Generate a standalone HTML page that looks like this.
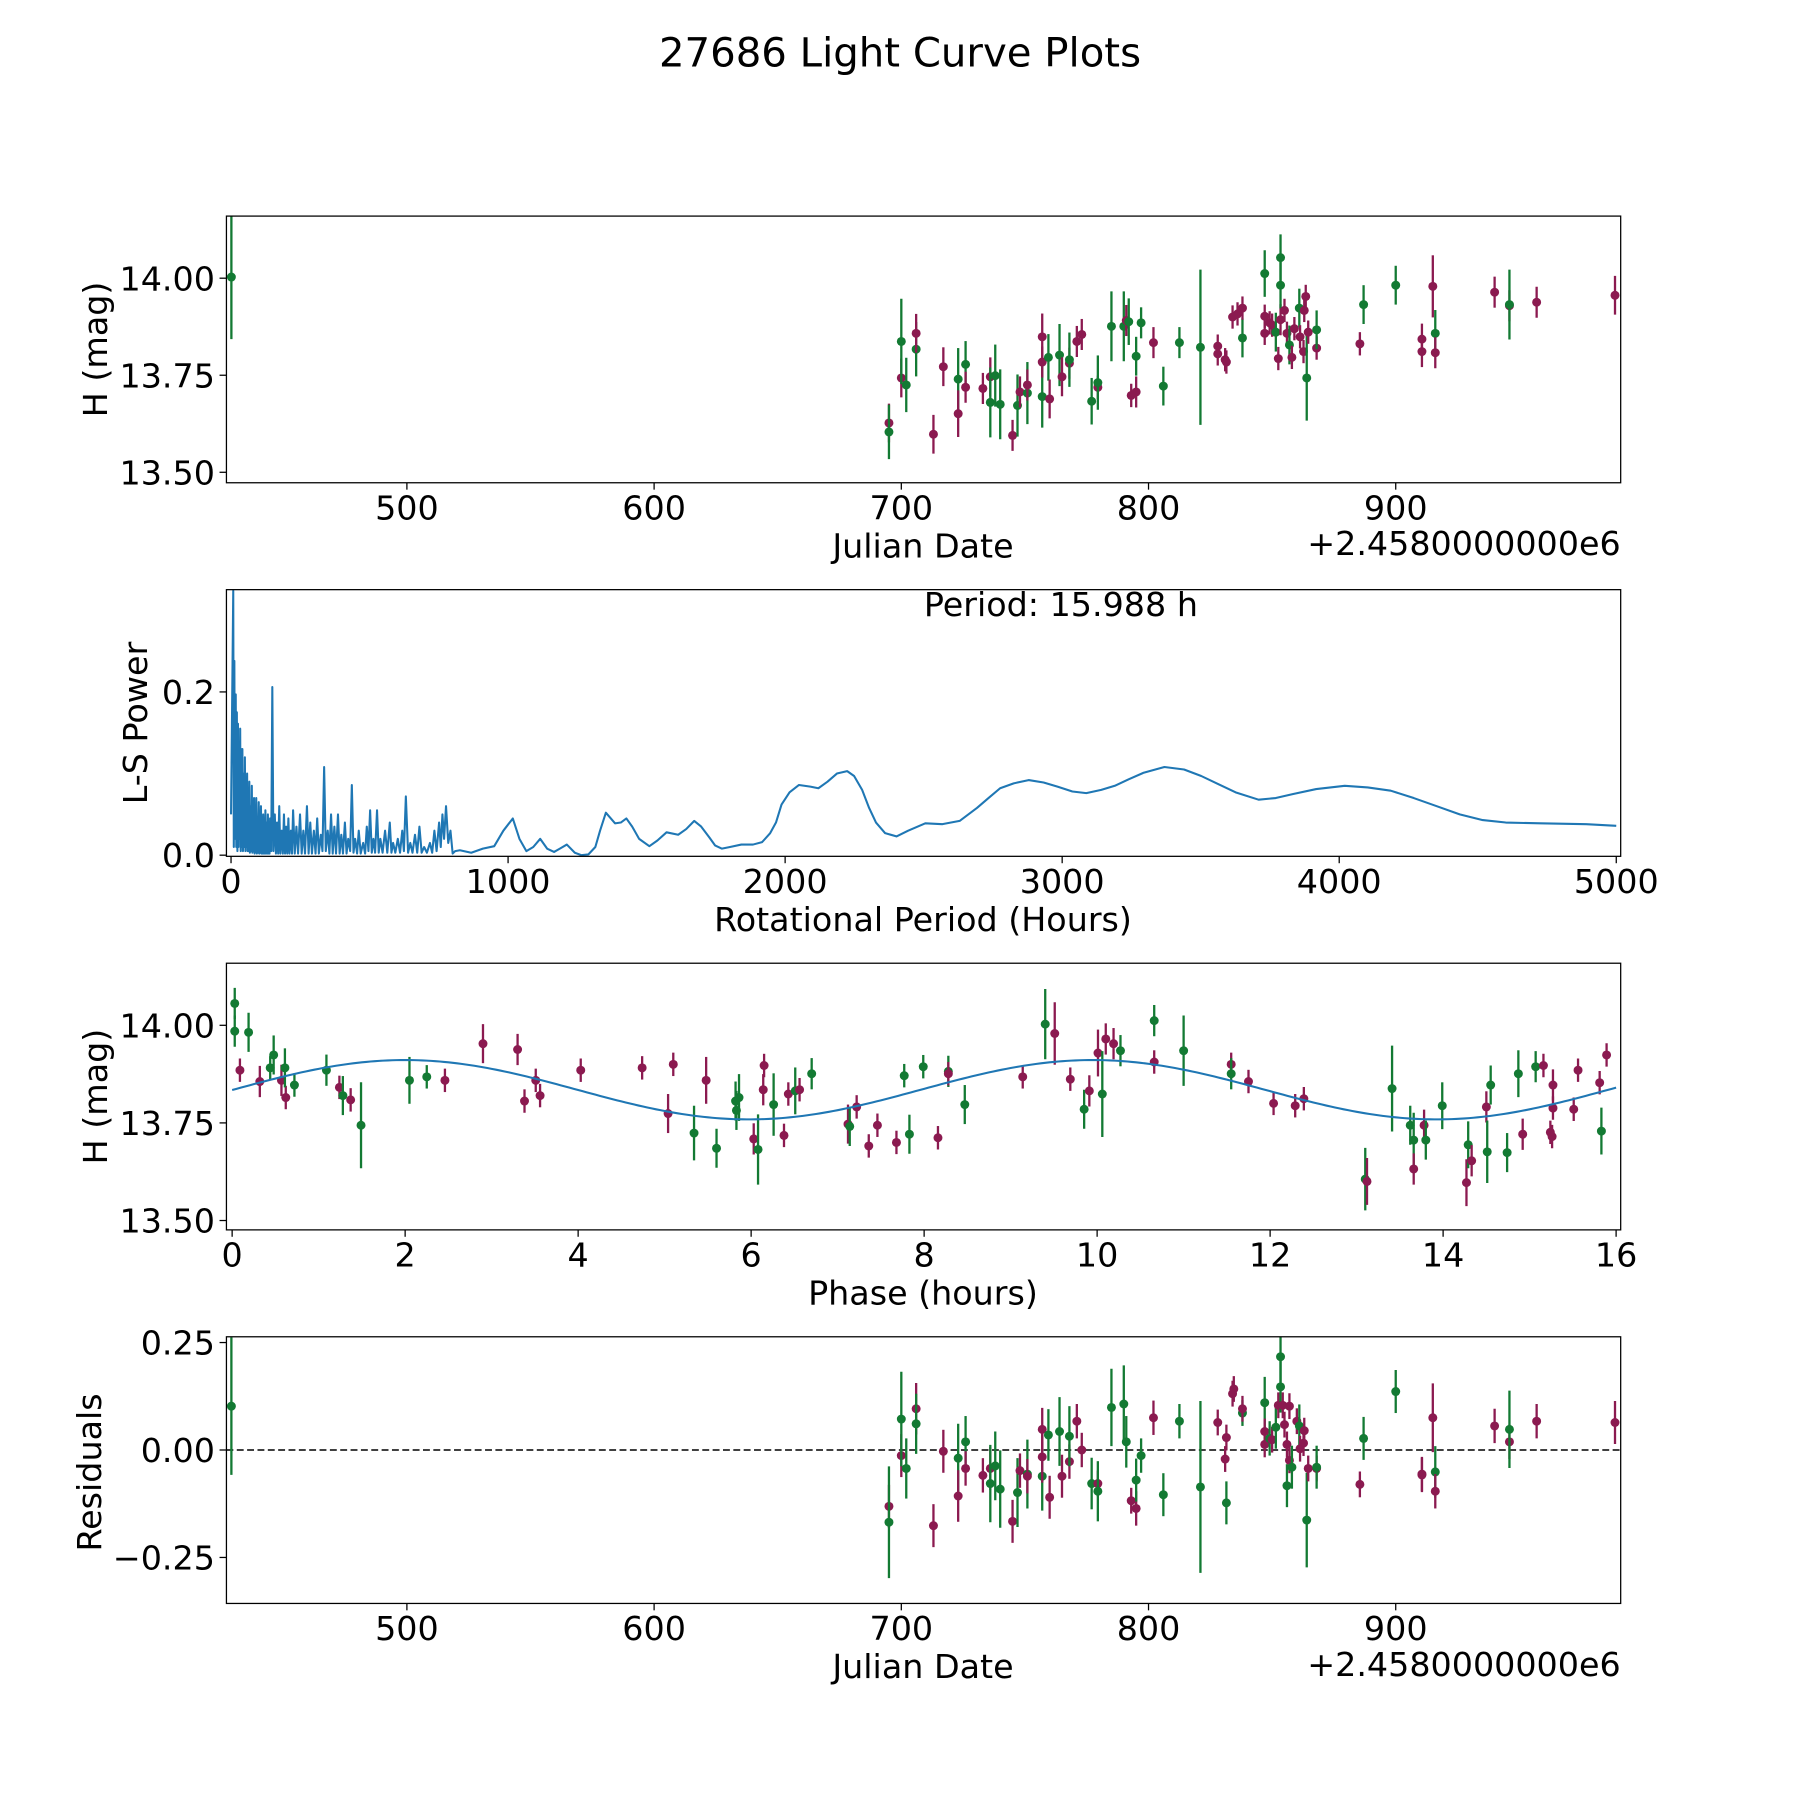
<!DOCTYPE html>
<html><head><meta charset="utf-8"><style>
html,body{margin:0;padding:0;background:#fff}
svg{display:block}
text{font-family:"DejaVu Sans","Liberation Sans",sans-serif;fill:#000}
</style></head><body>
<svg id="fig" width="1800" height="1800" viewBox="0 0 1566 1566" xmlns="http://www.w3.org/2000/svg">
<rect width="1566" height="1566" fill="#fff"/>
<text x="783" y="58" font-size="35" text-anchor="middle">27686 Light Curve Plots</text>
<g id="p1"></g>
<g id="p2"></g>
<g id="p3"></g>
<g id="p4"></g>
</svg>
<script>
// ---------- data: light curve ----------
const obsDate=[429,695,695,700,700,702,706,706,713,717,723,723,726,726,733,736,736,738,740,745,747,748,751,751,757,757,757,759.5,760,764,765,768,768,771,773,777,779.5,779.5,785,790,791,792,793,795,795,797,802,806,812.5,821,828,828,831,831.5,834,836,838,838,847,847,847,849,850,851.5,852.5,853.4,853.4,853.4,855,856,857,858,859,861,861.3,862.7,863,863.6,864,864.6,868,868,885.5,887,900,910.6,910.6,915,916,916,940,946,946,957,988.7];
const obsMag=[14.003,13.627,13.604,13.743,13.837,13.725,13.817,13.858,13.598,13.772,13.74,13.651,13.778,13.719,13.716,13.746,13.68,13.749,13.675,13.595,13.672,13.707,13.704,13.725,13.695,13.784,13.849,13.796,13.689,13.802,13.746,13.781,13.79,13.837,13.855,13.683,13.719,13.731,13.876,13.876,13.891,13.888,13.698,13.707,13.799,13.885,13.834,13.722,13.834,13.822,13.825,13.805,13.79,13.784,13.9,13.908,13.846,13.923,14.012,13.902,13.858,13.885,13.879,13.861,13.793,13.893,13.982,14.053,13.917,13.858,13.828,13.796,13.87,13.923,13.849,13.811,13.917,13.953,13.743,13.861,13.82,13.867,13.831,13.932,13.982,13.843,13.811,13.979,13.858,13.808,13.964,13.929,13.932,13.938,13.956];
const obsErr=[.16,.05,.07,.05,.11,.07,.07,.05,.05,.05,.08,.06,.06,.04,.04,.05,.09,.08,.09,.04,.08,.04,.08,.04,.08,.04,.06,.06,.05,.08,.05,.04,.07,.04,.04,.06,.03,.07,.09,.09,.04,.06,.03,.04,.05,.04,.04,.05,.04,.2,.03,.03,.03,.03,.03,.03,.05,.03,.06,.03,.03,.03,.03,.05,.03,.04,.06,.06,.03,.03,.05,.03,.03,.05,.03,.03,.03,.03,.11,.03,.03,.05,.03,.05,.05,.04,.04,.08,.06,.04,.04,.04,.09,.04,.05];
const obsBand="GMGMGGGMMMGMGMMMGGGMGMGMGMMGMGMMGMMGMGGGMGMMGGMGGGMMMMMMGMGMMMMGMMGGMMGMMGMMMMGMMGMGGMMMGMMMGMM".split("");
// ---------- data: residuals ----------
const resDate=[429,695,695,700,700,702,706,706,713,717,723,723,726,726,733,736,736,738,740,745,747,748,751,751,757,757,757,759.5,760,764,765,768,768,771,773,777,779.5,779.5,785,790,791,793,795,795,797,802,806,812.5,821,828,831,831.5,831.5,834,834.5,838,838,847,847,847,849,850,851.5,852.5,853.4,853.4,854.3,855,856,856,857,857,858,860,861,861.3,862.7,863,864,864.6,868,868,885.5,887,900,910.6,910.6,915,916,916,940,946,946,957,988.7];
const resVal=[.102,-.131,-.168,-.013,.072,-.043,.096,.061,-.176,-.003,-.019,-.107,.019,-.043,-.059,-.043,-.078,-.037,-.091,-.166,-.099,-.048,-.056,-.061,-.061,.048,-.016,.035,-.11,.043,-.061,-.027,.032,.067,0,-.078,-.078,-.096,.099,.107,.019,-.118,-.136,-.07,-.013,.075,-.104,.067,-.086,.064,-.021,-.123,.029,.131,.142,.086,.096,.11,.043,.013,.027,.024,.053,.104,.217,.147,.104,.059,.013,-.083,.102,-.024,-.04,.067,.056,.003,.016,.045,-.163,-.043,-.043,-.04,-.08,.027,.136,-.056,-.058,.075,-.051,-.096,.056,.019,.048,.067,.064];
const resErr=[.16,.05,.13,.05,.11,.07,.06,.07,.05,.05,.08,.06,.06,.04,.04,.05,.09,.08,.09,.05,.08,.04,.08,.04,.08,.05,.06,.06,.05,.08,.05,.04,.07,.04,.04,.06,.03,.07,.09,.09,.06,.03,.04,.05,.04,.04,.05,.04,.2,.03,.03,.05,.03,.03,.03,.03,.03,.06,.03,.03,.04,.03,.05,.03,.06,.06,.03,.03,.03,.05,.03,.03,.05,.03,.05,.03,.03,.03,.11,.03,.03,.05,.03,.05,.05,.04,.04,.08,.06,.04,.04,.04,.09,.04,.05];
const resBand="GMGMGGMGMMGMGMMMGGGMGMGMGMMGMGMMGMMGMGGGGMMGGMGGGMMGMMMGMGMMGMGMGGMMMGMMGMGMMMGMMGMGGMMMGMMMGMM".split("");
// ---------- data: phase folded ----------
const phHours=[.03,.03,.09,.19,.32,.44,.48,.57,.62,.61,.72,1.09,1.24,1.28,1.37,1.49,2.05,2.25,2.46,2.9,3.3,3.38,3.51,3.56,4.03,4.74,5.04,5.10,5.34,5.48,5.60,5.82,5.83,5.86,6.03,6.08,6.14,6.15,6.26,6.38,6.43,6.51,6.56,6.70,7.12,7.14,7.22,7.36,7.46,7.68,7.77,7.83,7.99,8.16,8.28,8.28,8.47,9.14,9.40,9.51,9.69,9.85,9.91,10.01,10.06,10.10,10.19,10.27,10.66,10.66,11.0,11.55,11.55,11.75,12.04,12.29,12.39,13.10,13.12,13.41,13.62,13.66,13.66,13.78,13.80,13.99,14.27,14.29,14.33,14.50,14.51,14.55,14.74,14.87,14.92,15.07,15.16,15.24,15.26,15.27,15.27,15.51,15.56,15.81,15.83,15.89];
const phMag=[14.056,13.985,13.885,13.982,13.856,13.891,13.924,13.859,13.815,13.891,13.847,13.885,13.841,13.82,13.809,13.744,13.859,13.868,13.859,13.953,13.938,13.806,13.859,13.82,13.885,13.891,13.774,13.9,13.724,13.859,13.685,13.806,13.782,13.815,13.709,13.682,13.835,13.897,13.797,13.718,13.824,13.832,13.835,13.876,13.747,13.741,13.791,13.691,13.744,13.7,13.871,13.721,13.894,13.712,13.882,13.876,13.797,13.868,14.003,13.979,13.862,13.785,13.832,13.929,13.824,13.965,13.953,13.935,14.012,13.906,13.935,13.9,13.876,13.856,13.8,13.794,13.812,13.606,13.6,13.838,13.744,13.706,13.632,13.744,13.706,13.794,13.597,13.694,13.653,13.791,13.676,13.847,13.674,13.876,13.721,13.894,13.897,13.726,13.715,13.788,13.847,13.785,13.885,13.853,13.729,13.924];
const phErr=[.04,.04,.03,.05,.04,.03,.05,.04,.03,.05,.03,.04,.03,.05,.03,.11,.06,.03,.03,.05,.04,.03,.03,.03,.03,.03,.05,.03,.07,.06,.05,.05,.05,.06,.04,.09,.04,.03,.08,.03,.03,.06,.03,.04,.05,.05,.03,.03,.03,.03,.03,.05,.03,.03,.04,.03,.05,.03,.09,.08,.03,.05,.04,.06,.11,.04,.04,.04,.04,.03,.09,.03,.04,.03,.03,.03,.03,.08,.06,.11,.05,.07,.04,.04,.05,.06,.06,.06,.04,.04,.08,.05,.05,.06,.04,.04,.03,.03,.03,.03,.04,.03,.03,.03,.06,.03];
const phBand="GGMGMGGMMGGGMGMGGGMMMMMMMMMMGMGGGGMGMMGMMGMGMGMMMMGGGMGMGMGMMGMMGMMGGMGMGMMMMGMGGGMMGGMGMMGGGGMGMMMMMMMMGM".split("");
const modelMean=13.835, modelAmp=0.076, modelPeriod=7.95, modelPeak=2.0;
// ---------- data: periodogram ----------
const lsPeriod=[0,8,10,12,14,17,19,21,23,25,27,29,31,33,35,37,39,41,43,46,48,50,52,54,56,58,60,62,64,66,68,71,73,75,77,79,81,83,85,87,89,91,93,95,97,100,102,104,106,108,110,112,114,116,118,120,122,124,126,129,131,133,135,137,139,141,145,149,153,158,162,166,170,174,178,183,187,191,195,199,203,207,211,216,220,224,230,236,242,249,255,261,267,274,280,286,292,299,305,311,317,324,330,336,342,349,355,361,367,373,379,386,392,398,404,411,417,423,430,436,442,448,455,461,468,477,484,490,496,502,508,514,520,527,533,539,547,556,564,573,579,585,593,602,610,618,624,631,639,647,655,664,672,680,688,697,707,718,726,734,742,751,757,763,769,776,784,792,800,809,826,867,909,950,983,1017,1041,1066,1091,1116,1141,1166,1187,1212,1241,1265,1290,1315,1332,1353,1386,1407,1427,1448,1473,1510,1539,1572,1614,1643,1672,1697,1726,1747,1772,1801,1842,1884,1917,1946,1967,1987,2016,2050,2091,2120,2153,2187,2224,2249,2278,2303,2328,2361,2402,2444,2506,2568,2630,2693,2734,2776,2825,2879,2933,2983,3037,3087,3141,3190,3240,3294,3369,3440,3502,3564,3626,3709,3771,3834,3917,4020,4103,4186,4269,4352,4435,4518,4601,4726,4892,5000];
const lsPower=[0.05,0.324,0.01,0.238,0.02,0.197,0.01,0.175,0.005,0.161,0.01,0.12,0.02,0.155,0.005,0.13,0.01,0.13,0.005,0.1,0.01,0.12,0.005,0.08,0.01,0.1,0.005,0.077,0.005,0.09,0.003,0.06,0.005,0.085,0.003,0.062,0.005,0.07,0.002,0.05,0.004,0.07,0.002,0.045,0.003,0.065,0.002,0.04,0.003,0.06,0.002,0.045,0.002,0.05,0.002,0.035,0.002,0.055,0.002,0.04,0.002,0.05,0.002,0.03,0.002,0.045,0.005,0.206,0.005,0.05,0.002,0.04,0.002,0.06,0.002,0.03,0.002,0.05,0.002,0.035,0.002,0.045,0.002,0.03,0.002,0.055,0.002,0.035,0.002,0.05,0.002,0.03,0.002,0.06,0.002,0.04,0.002,0.03,0.002,0.045,0.002,0.025,0.005,0.108,0.005,0.03,0.002,0.05,0.002,0.035,0.002,0.05,0.002,0.025,0.002,0.04,0.002,0.02,0.005,0.086,0.003,0.02,0.002,0.03,0.002,0.015,0.002,0.035,0.005,0.055,0.003,0.02,0.003,0.055,0.003,0.02,0.003,0.03,0.003,0.04,0.003,0.015,0.003,0.02,0.003,0.03,0.005,0.072,0.003,0.015,0.003,0.025,0.003,0.035,0.003,0.01,0.003,0.015,0.003,0.03,0.005,0.04,0.01,0.05,0.02,0.06,0.015,0.03,0.002,0.005,0.006,0.003,0.008,0.011,0.03,0.045,0.02,0.005,0.01,0.02,0.008,0.004,0.008,0.013,0.003,0.0,0.001,0.01,0.03,0.052,0.039,0.04,0.045,0.035,0.02,0.011,0.018,0.028,0.025,0.032,0.042,0.035,0.022,0.012,0.008,0.01,0.013,0.013,0.016,0.027,0.04,0.062,0.077,0.086,0.084,0.082,0.09,0.1,0.103,0.097,0.08,0.058,0.04,0.027,0.023,0.03,0.039,0.038,0.042,0.058,0.07,0.082,0.088,0.092,0.089,0.084,0.078,0.076,0.08,0.085,0.093,0.101,0.108,0.105,0.097,0.087,0.077,0.068,0.07,0.075,0.081,0.085,0.083,0.079,0.07,0.06,0.05,0.043,0.04,0.039,0.038,0.036];
const p1XTicks=[500,600,700,800,900], magTicks=[13.5,13.75,14.0], magTickLabels=["13.50","13.75","14.00"];
const p2XTicks=[0,1000,2000,3000,4000,5000], p2YTicks=[0,0.2], p2YTickLabels=["0.0","0.2"];
const p3XTicks=[0,2,4,6,8,10,12,14,16];
const resTicks=[-0.25,0,0.25], resTickLabels=["\u22120.25","0.00","0.25"];

const NS="http://www.w3.org/2000/svg";
const GREEN="#137a33", MAROON="#8b1a50";
const FS=29;
function el(tag,attrs,parent){const e=document.createElementNS(NS,tag);for(const k in attrs)e.setAttribute(k,attrs[k]);parent.appendChild(e);return e;}
function lin(d0,d1,r0,r1){return v=>r0+(v-d0)*(r1-r0)/(d1-d0);}
const L=197,R=1410,H=232;
function axesFrame(g,top,id){
  const cp=el('clipPath',{id:id},g);
  el('rect',{x:L,y:top,width:R-L,height:H},cp);
}
function frame(g,top){
  const f=el('rect',{x:L,y:top,width:R-L,height:H,fill:'none',stroke:'#000','stroke-width':1.1},g);
  
  
}
function xTicks(g,top,sx,ticks,labels,name){
  ticks.forEach((t,i)=>{const x=sx(t);
    const tk=el('line',{x1:x,x2:x,y1:top+H,y2:top+H+6,stroke:'#000','stroke-width':1.1},g);
    
    
    const tx=el('text',{x:x,y:top+H+32,'font-size':FS,'text-anchor':'middle'},g);
    tx.textContent=labels?labels[i]:String(t);
    
    
  });
}
function yTicks(g,sy,ticks,labels,name){
  ticks.forEach((t,i)=>{const y=sy(t);
    const tk=el('line',{x1:L-6,x2:L,y1:y,y2:y,stroke:'#000','stroke-width':1.1},g);
    
    
    const tx=el('text',{x:L-10,y:y+10.5,'font-size':FS,'text-anchor':'end'},g);
    tx.textContent=labels[i];
    
    
  });
}
function label(g,x,y,txt,rot,name){
  const t=el('text',{x:x,y:y,'font-size':FS,'text-anchor':'middle'},g);
  if(rot)t.setAttribute('transform','rotate(-90 '+x+' '+y+')');
  t.textContent=txt;
  
  
}
function points(g,clip,xs,ys,es,bands,sx,sy,name){
  const pg=el('g',{'clip-path':'url(#'+clip+')'},g);
  
  
  xs.forEach((xv,i)=>{const c=bands[i]==='G'?GREEN:MAROON;const x=sx(xv);
    const eb=el('line',{x1:x,x2:x,y1:sy(ys[i]-es[i]),y2:sy(ys[i]+es[i]),stroke:c,'stroke-width':2},pg);
    
    
    const p=el('circle',{cx:x,cy:sy(ys[i]),r:3.9,fill:c},pg);
    
    
  });
}
// Panel 1
(function(){const g=document.getElementById('p1'),top=188;
  const sx=lin(427,991,L,R), sy=lin(14.16,13.473,top,top+H);
  axesFrame(g,top,'c1');
  points(g,'c1',obsDate,obsMag,obsErr,obsBand,sx,sy,'observation');
  frame(g,top);
  xTicks(g,top,sx,p1XTicks,null,'date');
  yTicks(g,sy,magTicks,magTickLabels,'mag');
  label(g,803,485,'Julian Date',false,'x-axis-title');
  const o=el('text',{x:R,y:483,'font-size':FS,'text-anchor':'end'},g);o.textContent='+2.4580000000e6';
  
  
  label(g,93,top+H/2,'H (mag)',true,'y-axis-title');
})();
// Panel 2
(function(){const g=document.getElementById('p2'),top=513;
  const sx=lin(-16.6,5016,L,R), sy=lin(0.3253,-0.0014,top,top+H);
  axesFrame(g,top,'c2');
  const d=lsPeriod.map((p,i)=>(i?'L':'M')+sx(p).toFixed(2)+' '+sy(lsPower[i]).toFixed(2)).join(' ');
  const ln=el('path',{d:d,fill:'none',stroke:'#1f77b4','stroke-width':1.8,'stroke-linejoin':'round','clip-path':'url(#c2)'},g);
  
  
  frame(g,top);
  xTicks(g,top,sx,p2XTicks,null,'period');
  yTicks(g,sy,p2YTicks,p2YTickLabels,'power');
  label(g,803,810,'Rotational Period (Hours)',false,'x-axis-title');
  label(g,128,top+H/2,'L-S Power',true,'y-axis-title');
  const pt=el('text',{x:923,y:536,'font-size':FS,'text-anchor':'middle'},g);pt.textContent='Period: 15.988 h';
  
  
})();
// Panel 3
(function(){const g=document.getElementById('p3'),top=838;
  const sx=lin(-0.066,16.053,L,R), sy=lin(14.159,13.476,top,top+H);
  axesFrame(g,top,'c3');
  points(g,'c3',phHours,phMag,phErr,phBand,sx,sy,'phased');
  let d='';for(let i=0;i<=320;i++){const x=i*16/320;const y=modelMean+modelAmp*Math.cos(2*Math.PI*(x-modelPeak)/modelPeriod);d+=(i?'L':'M')+sx(x).toFixed(2)+' '+sy(y).toFixed(2)+' ';}
  const m=el('path',{d:d,fill:'none',stroke:'#1f77b4','stroke-width':1.8},g);
  
  
  frame(g,top);
  xTicks(g,top,sx,p3XTicks,null,'phase');
  yTicks(g,sy,magTicks,magTickLabels,'mag');
  label(g,803,1135,'Phase (hours)',false,'x-axis-title');
  label(g,93,top+H/2,'H (mag)',true,'y-axis-title');
})();
// Panel 4
(function(){const g=document.getElementById('p4'),top=1163;
  const sx=lin(427,991,L,R), sy=lin(0.2634,-0.357,top,top+H);
  axesFrame(g,top,'c4');
  const z=el('line',{x1:L,x2:R,y1:sy(0),y2:sy(0),stroke:'#000','stroke-width':1.4,'stroke-dasharray':'6,3'},g);
  
  
  points(g,'c4',resDate,resVal,resErr,resBand,sx,sy,'residual');
  frame(g,top);
  xTicks(g,top,sx,p1XTicks,null,'date');
  yTicks(g,sy,resTicks,resTickLabels,'residual');
  label(g,803,1460,'Julian Date',false,'x-axis-title');
  const o=el('text',{x:R,y:1458,'font-size':FS,'text-anchor':'end'},g);o.textContent='+2.4580000000e6';
  
  
  label(g,88,top+H/2+2,'Residuals',true,'y-axis-title');
})();
</script>
</body></html>
